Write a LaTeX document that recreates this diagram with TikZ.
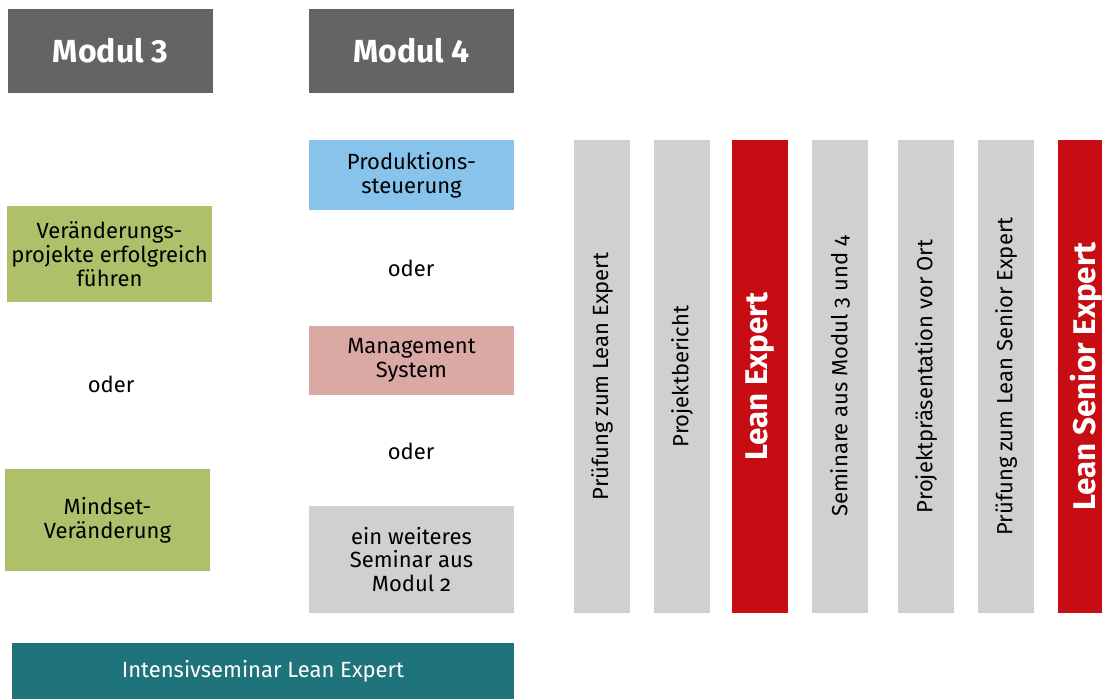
\documentclass[tikz,border=0pt]{standalone}
\usepackage{fontspec}
\setmainfont{Fira Sans}
\newfontfamily\oldnum[Numbers=OldStyle]{Fira Sans}
\definecolor{modgray}{RGB}{100,100,100}
\definecolor{prodblue}{RGB}{135,195,234}
\definecolor{mgmtrose}{RGB}{219,169,164}
\definecolor{lightgray}{RGB}{208,208,208}
\definecolor{leangreen}{RGB}{174,193,106}
\definecolor{intteal}{RGB}{31,115,123}
\definecolor{leanred}{RGB}{199,13,19}
\tikzset{every picture/.style={line width=0.75pt}}
\begin{document}
\begin{tikzpicture}[x=0.75pt,y=0.75pt,yscale=-1,xscale=1,
  modbox/.style={fill=modgray, text=white, inner sep=0pt, minimum width=153.75pt, minimum height=63pt, font=\fontsize{24}{28}\selectfont\bfseries},
  optbox/.style={inner sep=0pt, align=center, minimum width=153.75pt, font=\fontsize{16.5}{17.8}\selectfont},
  orlabel/.style={inner sep=0pt, font=\fontsize{16.5}{17.8}\selectfont},
  colbar/.style={rotate=90, inner sep=0pt, minimum width=354.75pt, minimum height=42pt, fill=lightgray, font=\fontsize{16.5}{17.8}\selectfont},
  redbar/.style={colbar, fill=leanred, text=white, font=\fontsize{23.5}{27}\selectfont\bfseries}]
\useasboundingbox (0,0) rectangle (1102,699);

% Modul 3
\node [modbox] (mod3) at (110.5,51) {Modul 3};
\node [optbox, fill=leangreen, minimum height=72pt] (change) at (109.5,254) {Veränderungs-\\projekte erfolgreich\\führen};
\node [orlabel] (or3) at (111,384) {oder};
\node [optbox, fill=leangreen, minimum height=76.5pt] (mindset) at (107.5,520) {Mindset-\\Veränderung};

% Modul 4
\node [modbox] (mod4) at (411.5,51) {Modul 4};
\node [optbox, fill=prodblue, minimum height=52.5pt] (prod) at (411.5,175) {Produktions-\\steuerung};
\node [orlabel] (or4a) at (411,268) {oder};
\node [optbox, fill=mgmtrose, minimum height=51.75pt] (mgmt) at (411.5,360.5) {Management\\System};
\node [orlabel] (or4b) at (411,451) {oder};
\node [optbox, fill=lightgray, minimum height=80.25pt] (other) at (411.5,559.5) {ein weiteres\\Seminar aus\\{\oldnum Modul 2}};

\node [optbox, fill=intteal, text=white, minimum width=376.5pt, minimum height=42pt] (intensive) at (263,671) {Intensivseminar Lean Expert};

% Abschluss
\node [colbar] (exam1) at (602,376.5) {Prüfung zum Lean Expert};
\node [colbar] (report) at (682,376.5) {Projektbericht};
\node [redbar] (expert) at (760,376.5) {Lean Expert};
\node [colbar] (seminars) at (840,376.5) {\oldnum Seminare aus Modul 3 und 4};
\node [colbar] (present) at (926,376.5) {Projektpräsentation vor Ort};
\node [colbar] (exam2) at (1006,376.5) {Prüfung zum Lean Senior Expert};
\node [redbar] (senior) at (1086,376.5) {Lean Senior Expert};

\end{tikzpicture}
\end{document}
